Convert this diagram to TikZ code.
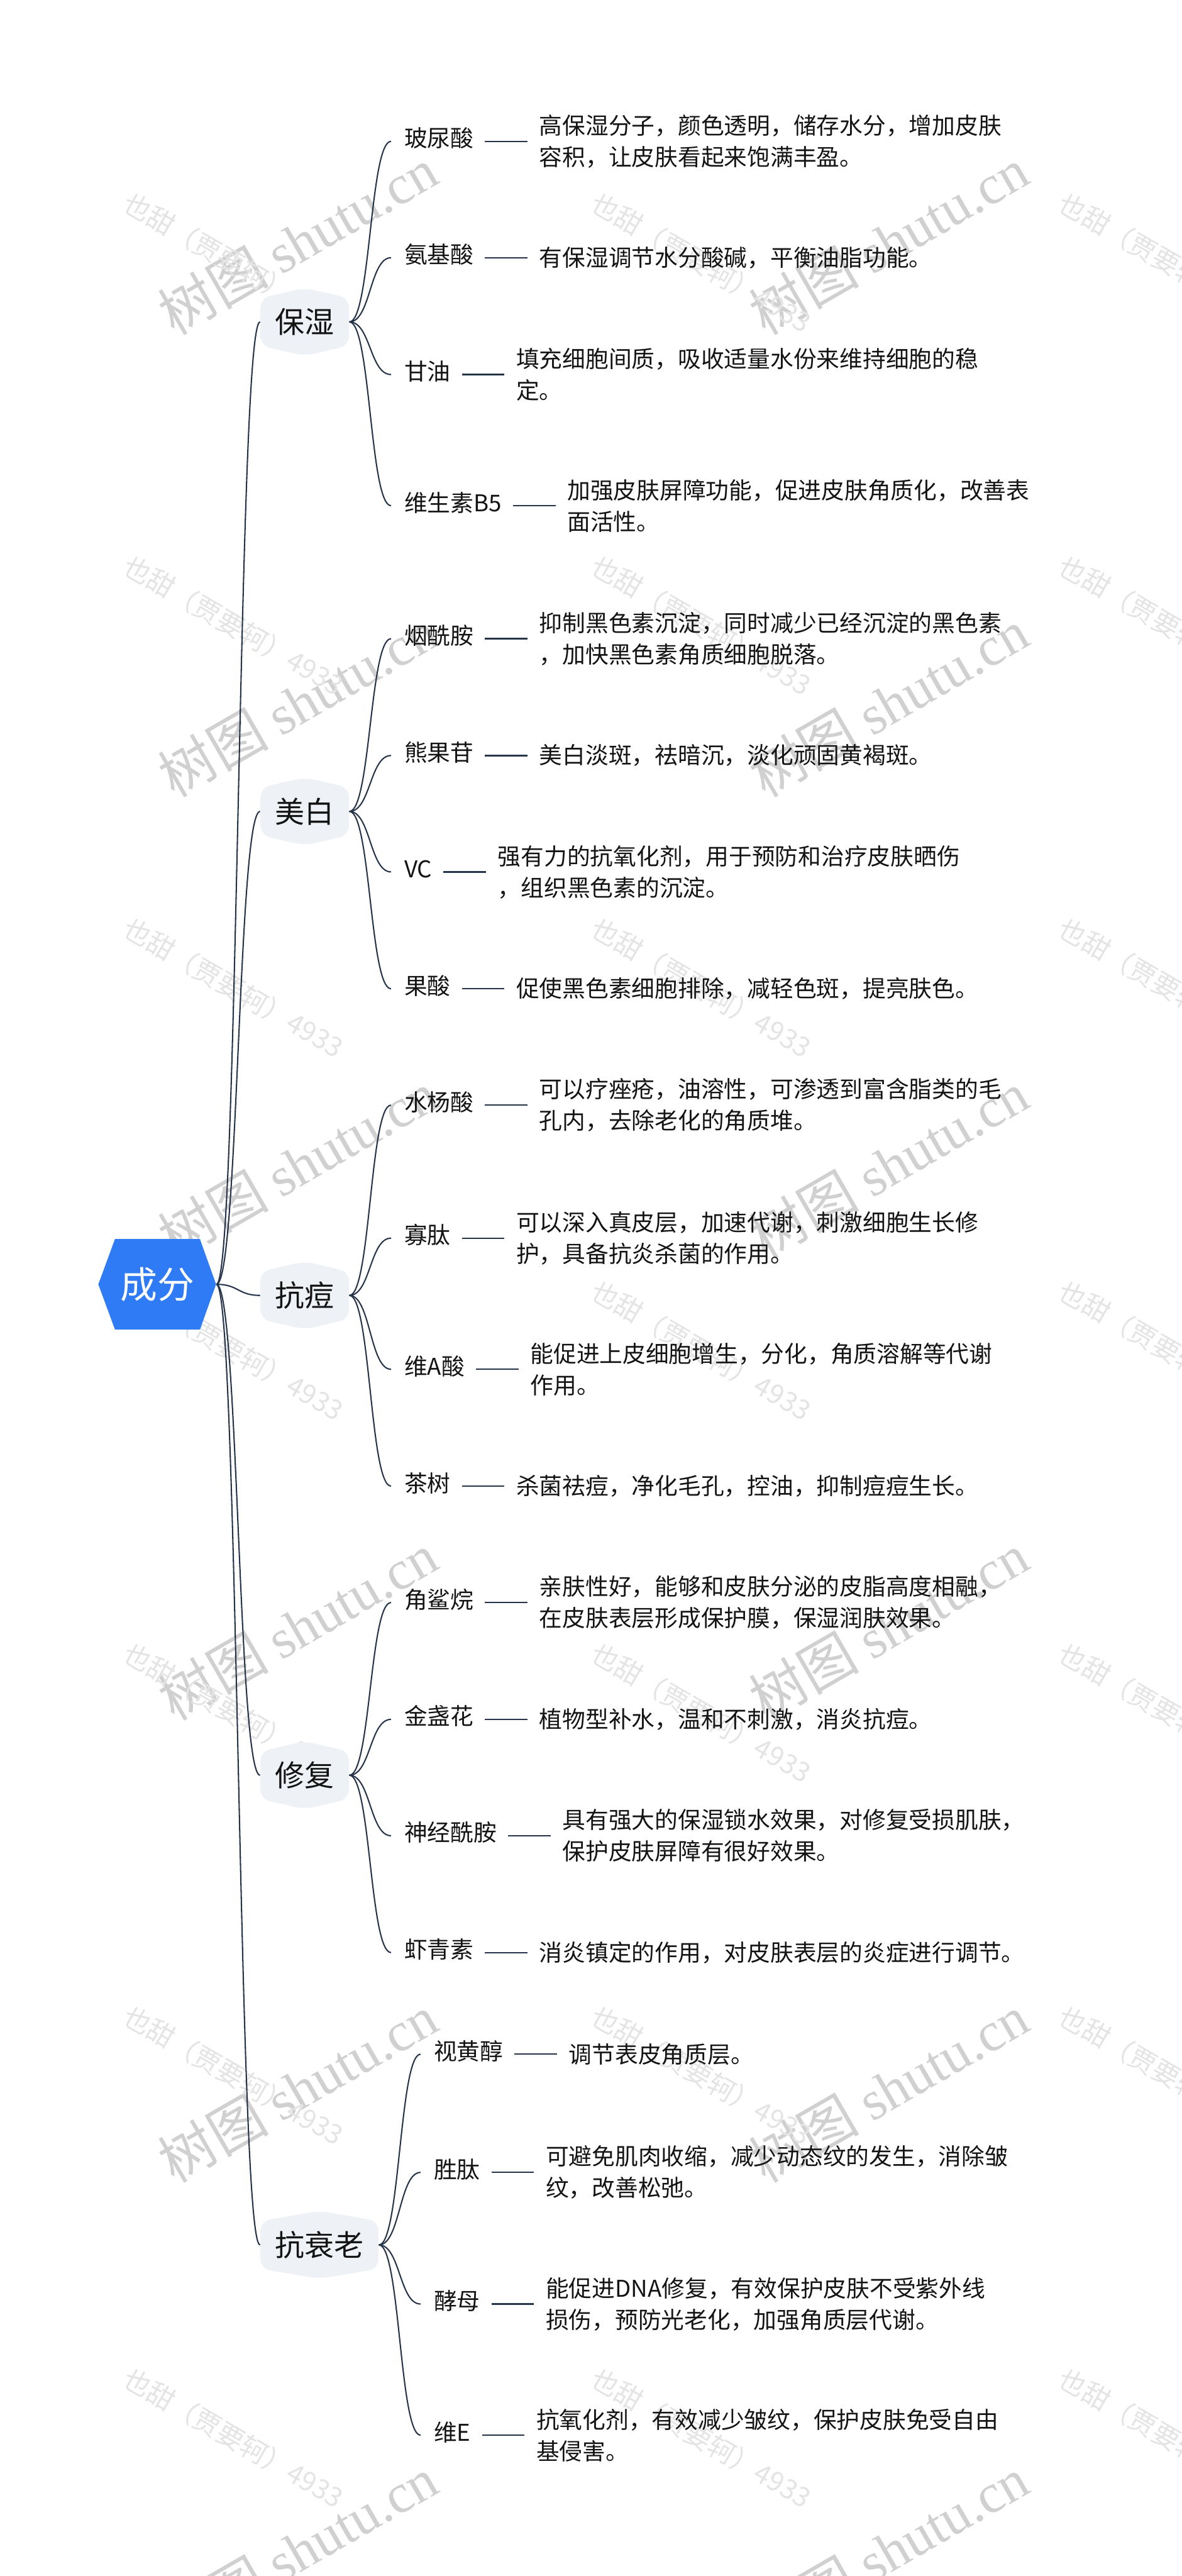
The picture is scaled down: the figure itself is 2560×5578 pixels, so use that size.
\documentclass[tikz,border=0pt]{standalone}
\usepackage{fontspec}
\setmainfont{Noto Sans CJK SC}
\newfontfamily\wmserif{Liberation Serif}

\definecolor{rootblue}{RGB}{47,123,246}
\definecolor{lonefill}{RGB}{238,241,245}
\definecolor{linec}{RGB}{38,52,74}
\definecolor{wmA}{RGB}{208,208,208}
\definecolor{wmB}{RGB}{228,228,228}
\definecolor{txt}{RGB}{20,20,20}

\tikzset{
  conn/.style={draw=linec, line width=0.8pt},
  dashline/.style={draw=linec, line width=0.9pt},
  rootnode/.style={text=white, font=\fontsize{22.8pt}{26pt}\selectfont, minimum width=2.55cm, minimum height=1.96cm, inner sep=0pt},
  lone/.style={text=txt, font=\fontsize{18.2pt}{22pt}\selectfont, minimum height=1.47cm, inner sep=0pt},
  leaf/.style={text=txt, font=\fontsize{14.23pt}{19.35pt}\selectfont, inner sep=0pt, anchor=west},
  leaflabel/.style={leaf, text height=0.8em, text depth=0.1em},
  desc/.style={leaf, align=left},
  wmbig/.style={text=wmA, rotate=30, font=\fontsize{34pt}{40pt}\selectfont},
  wmsmall/.style={text=wmB, rotate=-30, anchor=west, font=\fontsize{16.6pt}{20pt}\selectfont},
}

% hexagon background: cx, cy, half width
\newcommand\lvlhex[3]{%
  \fill[lonefill, rounded corners=6] (#1-#3,#2) -- (#1-#3,#2-51.5) -- (#1,#2-73.5) -- (#1+#3,#2-51.5) -- (#1+#3,#2+51.5) -- (#1,#2+73.5) -- (#1-#3,#2+51.5) -- cycle;}

% leaf: name, x, y, label, description, parent
\newcommand\leafitem[6]{%
  \node[leaflabel] (#1) at (#2,#3) {#4};
  \node[desc] (#1d) at ([xshift=1.41cm]#1.east) {#5};
  \draw[dashline] ([xshift=0.24cm]#1.east) -- ([xshift=-0.25cm]#1d.west);
  \draw[conn] (#6.east) .. controls +(46,0) and +(-46,0) .. ([xshift=-0.28cm]#1.west);}

\begin{document}
\begin{tikzpicture}[x=0.01cm, y=-0.01cm]
\fill[white] (0,0) rectangle (2560,5578);
\useasboundingbox (0,0) rectangle (2560,5578);

% watermarks
\foreach \i in {0,1} {
  \foreach \j in {0,...,5} {
    \node[wmbig] (wmb-\i-\j) at (645+1280*\i, 522+1000*\j) {树图 {\wmserif shutu.cn}};
  }
}
\foreach \i in {0,1,2} {
  \foreach \j in {0,...,6} {
    \node[wmsmall] (wms-\i-\j) at (262+1013*\i, 428+785*\j) {也甜（贾要轲）4933};
  }
}

% root
\fill[rootblue] (213,2781) -- (249,2683) -- (433,2683) -- (468,2781) -- (433,2879) -- (249,2879) -- cycle;
\node[rootnode] (root) at (340.5,2781) {成分};

% level one
\lvlhex{660}{697}{96}
\node[lone, minimum width=1.92cm] (bs) at (660,697) {保湿};
\lvlhex{660}{1757}{96}
\node[lone, minimum width=1.92cm] (mb) at (660,1757) {美白};
\lvlhex{660}{2805}{96}
\node[lone, minimum width=1.92cm] (kd) at (660,2805) {抗痘};
\lvlhex{660}{3844}{96}
\node[lone, minimum width=1.92cm] (xf) at (660,3844) {修复};
\lvlhex{692}{4861}{128}
\node[lone, minimum width=2.56cm] (ksl) at (692,4861) {抗衰老};

\foreach \n in {bs,mb,kd,xf,ksl} {
  \draw[conn] (root.east) .. controls +(48,0) and +(-48,0) .. (\n.west);
}

% 保湿
\leafitem{a1}{875}{306}{玻尿酸}{高保湿分子，颜色透明，储存水分，增加皮肤\\容积，让皮肤看起来饱满丰盈。}{bs}
\leafitem{a2}{875}{558}{氨基酸}{有保湿调节水分酸碱，平衡油脂功能。}{bs}
\leafitem{a3}{875}{811}{甘油}{填充细胞间质，吸收适量水份来维持细胞的稳\\定。}{bs}
\leafitem{a4}{875}{1095}{维生素B5}{加强皮肤屏障功能，促进皮肤角质化，改善表\\面活性。}{bs}

% 美白
\leafitem{b1}{875}{1383}{烟酰胺}{抑制黑色素沉淀，同时减少已经沉淀的黑色素\\，加快黑色素角质细胞脱落。}{mb}
\leafitem{b2}{875}{1636}{熊果苷}{美白淡斑，祛暗沉，淡化顽固黄褐斑。}{mb}
\leafitem{b3}{875}{1888}{VC}{强有力的抗氧化剂，用于预防和治疗皮肤晒伤\\，组织黑色素的沉淀。}{mb}
\leafitem{b4}{875}{2141}{果酸}{促使黑色素细胞排除，减轻色斑，提亮肤色。}{mb}

% 抗痘
\leafitem{c1}{875}{2393}{水杨酸}{可以疗痤疮，油溶性，可渗透到富含脂类的毛\\孔内，去除老化的角质堆。}{kd}
\leafitem{c2}{875}{2681}{寡肽}{可以深入真皮层，加速代谢，刺激细胞生长修\\护，具备抗炎杀菌的作用。}{kd}
\leafitem{c3}{875}{2965}{维A酸}{能促进上皮细胞增生，分化，角质溶解等代谢\\作用。}{kd}
\leafitem{c4}{875}{3218}{茶树}{杀菌祛痘，净化毛孔，控油，抑制痘痘生长。}{kd}

% 修复
\leafitem{d1}{875}{3470}{角鲨烷}{亲肤性好，能够和皮肤分泌的皮脂高度相融，\\在皮肤表层形成保护膜，保湿润肤效果。}{xf}
\leafitem{d2}{875}{3723}{金盏花}{植物型补水，温和不刺激，消炎抗痘。}{xf}
\leafitem{d3}{875}{3975}{神经酰胺}{具有强大的保湿锁水效果，对修复受损肌肤，\\保护皮肤屏障有很好效果。}{xf}
\leafitem{d4}{875}{4228}{虾青素}{消炎镇定的作用，对皮肤表层的炎症进行调节。}{xf}

% 抗衰老
\leafitem{e1}{939}{4448}{视黄醇}{调节表皮角质层。}{ksl}
\leafitem{e2}{939}{4704}{胜肽}{可避免肌肉收缩，减少动态纹的发生，消除皱\\纹，改善松弛。}{ksl}
\leafitem{e3}{939}{4989}{酵母}{能促进DNA修复，有效保护皮肤不受紫外线\\损伤，预防光老化，加强角质层代谢。}{ksl}
\leafitem{e4}{939}{5273}{维E}{抗氧化剂，有效减少皱纹，保护皮肤免受自由\\基侵害。}{ksl}
\end{tikzpicture}
\end{document}
